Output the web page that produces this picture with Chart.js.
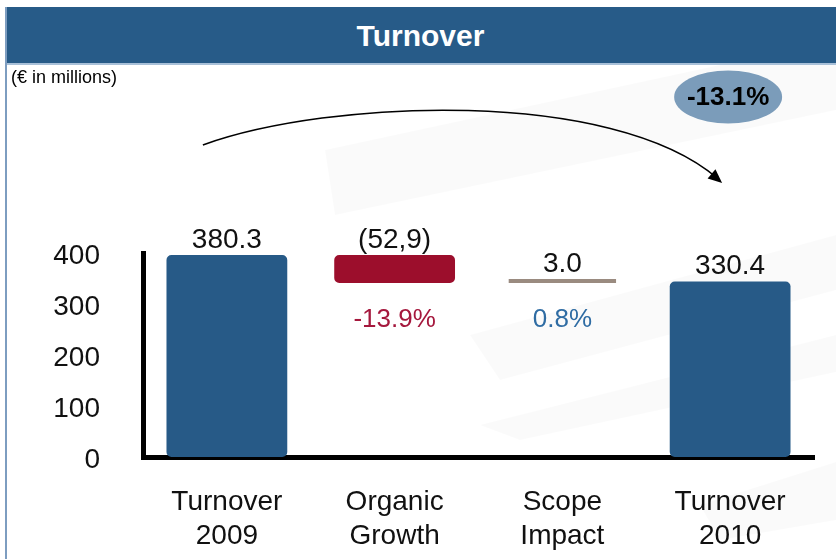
<!DOCTYPE html>
<html><head><meta charset="utf-8">
<script src="https://cdn.jsdelivr.net/npm/chart.js@4/dist/chart.umd.min.js"></script>
<style>
html,body{margin:0;padding:0;background:#fff;}
#wrap{position:relative;width:836px;height:559px;overflow:hidden;font-family:"Liberation Sans",Arial,sans-serif;}
#band{position:absolute;left:5px;top:7px;width:831px;height:56px;background:#275b88;border-bottom:2px solid #a8c0d8;color:#fff;font-weight:bold;font-size:30px;line-height:58px;text-align:center;}
#lborder{position:absolute;left:5px;top:7px;width:2px;height:552px;background:#7d9dc0;}
#unit{position:absolute;left:11px;top:67px;font-size:18px;color:#000;}
canvas{position:absolute;left:0;top:0;}
</style></head>
<body><div id="wrap">
<canvas id="c" width="836" height="559"></canvas>
<div id="band">Turnover</div>
<div id="lborder"></div>
<div id="unit">(€ in millions)</div>
</div>
<script>
// ---- data ----
const categories = [["Turnover","2009"],["Organic","Growth"],["Scope","Impact"],["Turnover","2010"]];
const turnover2009 = 380.3;
const organicGrowth = -52.9;
const scopeImpact = 3.0;
const turnover2010 = 330.4;
const valueLabels = ["380.3","(52,9)","3.0","330.4"];
const pctLabels = [null,"-13.9%","0.8%",null];
const totalChangeLabel = "-13.1%";
const yTickValues = [0,100,200,300,400];

// ---- derived waterfall ranges ----
const afterOrganic = turnover2009 + organicGrowth;
const mainBars = [[0, turnover2009], [afterOrganic, turnover2009], null, [0, turnover2010]];
const scopeBars = [null, null, [afterOrganic, afterOrganic + scopeImpact], null];

const FONT = '"Liberation Sans", Arial, sans-serif';
const BLUE = '#275a87', RED = '#9c0e2c', GREY = '#9a8b80';

// faint decorative background swooshes
const backdrop = {
  id: 'backdrop',
  beforeDraw(chart) {
    const ctx = chart.ctx;
    ctx.save();
    ctx.fillStyle = 'rgba(0,0,0,0.02)';
    const polys = [
      [[325,150],[836,40],[836,110],[335,215]],
      [[470,335],[836,235],[836,290],[500,380]],
      [[480,425],[836,335],[836,372],[520,440]],
      [[700,505],[836,462],[836,520],[720,540]]
    ];
    polys.forEach(p => {
      ctx.beginPath();
      ctx.moveTo(p[0][0], p[0][1]);
      for (let k = 1; k < p.length; k++) ctx.lineTo(p[k][0], p[k][1]);
      ctx.closePath();
      ctx.fill();
    });
    ctx.restore();
  }
};

const overlay = {
  id: 'overlay',
  afterDatasetsDraw(chart) {
    const ctx = chart.ctx;
    const m0 = chart.getDatasetMeta(0).data;
    const m1 = chart.getDatasetMeta(1).data;
    const els = [m0[0], m0[1], m1[2], m0[3]];
    ctx.save();
    ctx.textAlign = 'center';
    els.forEach((el, i) => {
      if (!el) return;
      const top = Math.min(el.y, el.base);
      const bot = Math.max(el.y, el.base);
      ctx.font = '28px ' + FONT;
      ctx.fillStyle = '#111';
      ctx.textBaseline = 'alphabetic';
      ctx.fillText(valueLabels[i], el.x, top - 7);
      if (pctLabels[i]) {
        ctx.font = '26px ' + FONT;
        ctx.fillStyle = i === 1 ? '#a5183d' : '#2f6ca3';
        ctx.textBaseline = 'middle';
        ctx.fillText(pctLabels[i], el.x, bot + 37);
      }
    });
    // curved arrow from first to last bar
    const x0 = els[0].x - 24, y0 = 145;
    const x3 = els[3].x - 8, y3 = 183;
    const c1x = x0 + 127, c1y = 99, c2x = x3 - 110, c2y = 88;
    ctx.strokeStyle = '#000';
    ctx.lineWidth = 1.5;
    ctx.beginPath();
    ctx.moveTo(x0, y0);
    ctx.bezierCurveTo(c1x, c1y, c2x, c2y, x3 - 5, y3 - 5);
    ctx.stroke();
    const ang = Math.atan2(y3 - c2y, x3 - c2x);
    ctx.fillStyle = '#000';
    ctx.beginPath();
    ctx.moveTo(x3, y3);
    ctx.lineTo(x3 - 14 * Math.cos(ang) + 6 * Math.sin(ang), y3 - 14 * Math.sin(ang) - 6 * Math.cos(ang));
    ctx.lineTo(x3 - 14 * Math.cos(ang) - 6 * Math.sin(ang), y3 - 14 * Math.sin(ang) + 6 * Math.cos(ang));
    ctx.closePath();
    ctx.fill();
    // ellipse badge
    const ex = els[3].x - 2, ey = 97;
    ctx.fillStyle = '#7b9cba';
    ctx.beginPath();
    ctx.ellipse(ex, ey, 54, 26.5, 0, 0, Math.PI * 2);
    ctx.fill();
    ctx.fillStyle = '#000';
    ctx.font = 'bold 26px ' + FONT;
    ctx.textBaseline = 'middle';
    ctx.fillText(totalChangeLabel, ex, ey + 1);
    ctx.restore();
  }
};

new Chart(document.getElementById('c'), {
  type: 'bar',
  data: {
    labels: categories,
    datasets: [
      { data: mainBars, backgroundColor: [BLUE, RED, BLUE, BLUE], borderRadius: 5, borderSkipped: false,
        barPercentage: 0.9, categoryPercentage: 0.8, grouped: false, yAxisID: 'y' },
      { data: scopeBars, backgroundColor: GREY, borderRadius: 0, minBarLength: 4,
        barPercentage: 0.8, categoryPercentage: 0.8, grouped: false, yAxisID: 'y' }
    ]
  },
  options: {
    responsive: false,
    devicePixelRatio: 1,
    animation: false,
    layout: { padding: { top: 253, right: 22, left: 0, bottom: 0 } },
    plugins: { legend: { display: false }, tooltip: { enabled: false }, title: { display: false } },
    scales: {
      x: {
        offset: true,
        grid: { display: false, drawTicks: false },
        border: { display: true, color: '#000', width: 5 },
        ticks: { color: '#111', font: { size: 28, family: FONT, lineHeight: 1.22 }, padding: 28, maxRotation: 0, autoSkip: false },
        afterFit(s) { s.height = 102; }
      },
      y: { display: false, min: 0, max: 384 },
      yl: {
        position: 'left', min: 0, max: 400,
        grid: { display: false, drawTicks: false },
        border: { display: true, color: '#000', width: 5 },
        ticks: { color: '#111', font: { size: 28, family: FONT }, padding: 43, labelOffset: 3 },
        afterBuildTicks(s) { s.ticks = yTickValues.map(v => ({ value: v })); },
        afterFit(s) { s.width = 143; }
      }
    }
  },
  plugins: [backdrop, overlay]
});
</script>
</body></html>
